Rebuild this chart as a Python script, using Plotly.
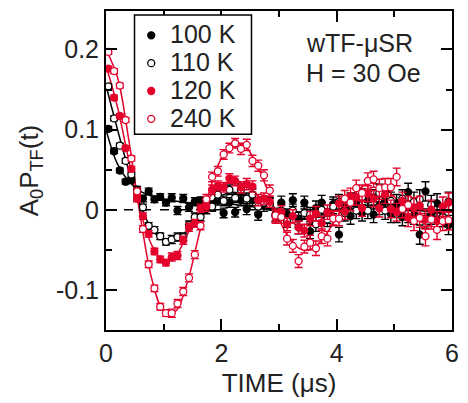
import plotly.graph_objects as go

# ---- data ----
t_data = [0.04, 0.14, 0.24, 0.34, 0.44, 0.54, 0.64, 0.74, 0.84, 0.94,
          1.04, 1.14, 1.24, 1.34, 1.44, 1.54, 1.64, 1.74, 1.84, 1.94,
          2.04, 2.14, 2.24, 2.34, 2.44, 2.54, 2.64, 2.74, 2.84, 2.94,
          3.04, 3.14, 3.24, 3.34, 3.44, 3.54, 3.64, 3.74, 3.84, 3.94,
          4.04, 4.14, 4.24, 4.34, 4.44, 4.54, 4.64, 4.74, 4.84, 4.94,
          5.04, 5.14, 5.24, 5.34, 5.44, 5.54, 5.64, 5.74, 5.84, 5.94]

y_100K = [0.101, 0.073, 0.049, 0.035, 0.037, 0.025, 0.014, 0.023, 0.013, 0.016,
          0.009, 0.015, -0.001, 0.014, 0.003, 0.010, 0.011, 0.001, 0.005, 0.012,
          -0.004, 0.009, -0.003, 0.012, 0.001, 0.012, -0.006, 0.005, 0.008, -0.006,
          0.009, -0.007, 0.012, -0.011, 0.009, -0.027, 0.002, 0.009, -0.008, 0.007,
          -0.031, 0.006, -0.008, 0.010, -0.004, 0.013, -0.006, 0.005, 0.011, -0.005,
          0.008, -0.009, 0.022, -0.006, -0.031, 0.023, -0.006, 0.008, -0.009, -0.019]

y_110K = [0.154, 0.114, 0.080, 0.061, 0.044, 0.015, 0.003, -0.020, -0.025, -0.033,
          -0.040, -0.037, -0.034, -0.034, -0.019, -0.009, -0.009, 0.008, 0.004, 0.019,
          0.011, 0.025, 0.015, 0.025, 0.014, 0.019, 0.004, 0.009, 0.007, -0.007,
          -0.001, -0.014, -0.001, -0.022, -0.004, -0.006, -0.018, 0.000, -0.012, 0.004,
          0.010, -0.004, 0.011, -0.001, 0.016, -0.001, 0.015, 0.021, -0.001, 0.011,
          -0.005, 0.014, -0.005, 0.010, 0.013, -0.011, 0.006, -0.012, -0.009, 0.010]

y_120K = [0.176, 0.140, 0.117, 0.077, 0.051, 0.014, -0.008, -0.030, -0.052, -0.062,
          -0.066, -0.059, -0.057, -0.038, -0.022, -0.017, 0.002, 0.004, 0.025, 0.030,
          0.028, 0.039, 0.036, 0.028, 0.032, 0.029, 0.012, 0.014, 0.010, -0.009,
          -0.003, -0.018, -0.008, -0.022, -0.026, -0.011, -0.005, -0.017, -0.003, -0.010,
          0.008, -0.002, 0.017, 0.016, 0.002, 0.020, 0.014, 0.002, 0.019, 0.001,
          -0.003, 0.011, -0.010, 0.003, 0.005, -0.012, 0.000, -0.014, 0.004, 0.009]

y_240K = [0.197, 0.173, 0.155, 0.112, 0.064, 0.023, -0.024, -0.068, -0.098, -0.121,
          -0.129, -0.129, -0.117, -0.102, -0.085, -0.056, -0.020, 0.013, 0.041, 0.048,
          0.069, 0.077, 0.083, 0.076, 0.081, 0.061, 0.055, 0.043, 0.024, -0.007,
          -0.009, -0.036, -0.045, -0.064, -0.046, -0.041, -0.048, -0.033, -0.036, -0.011,
          -0.011, 0.014, 0.009, 0.027, 0.021, 0.036, 0.038, 0.027, 0.028, 0.028,
          0.041, 0.001, 0.006, -0.014, -0.010, -0.033, -0.012, -0.025, -0.014, -0.013]

err = [0.003, 0.003, 0.003, 0.003, 0.003, 0.004, 0.004, 0.004, 0.004, 0.004,
       0.004, 0.005, 0.005, 0.005, 0.005, 0.005, 0.005, 0.006, 0.006, 0.006,
       0.006, 0.006, 0.006, 0.007, 0.007, 0.007, 0.007, 0.007, 0.007, 0.008,
       0.008, 0.008, 0.008, 0.008, 0.008, 0.009, 0.009, 0.009, 0.009, 0.009,
       0.009, 0.010, 0.010, 0.010, 0.010, 0.010, 0.010, 0.011, 0.011, 0.011,
       0.011, 0.011, 0.011, 0.012, 0.012, 0.012, 0.012, 0.012, 0.012, 0.012]

t_fit = [0.0, 0.2, 0.4, 0.6, 0.8, 1.0, 1.2, 1.4, 1.6, 1.8,
         2.0, 2.2, 2.4, 2.6, 2.8, 3.0, 3.2, 3.4, 3.6, 3.8,
         4.0, 4.2, 4.4, 4.6, 4.8, 5.0, 5.2, 5.4, 5.6, 5.8, 6.0]

fit_100K = [0.100, 0.057, 0.035, 0.023, 0.017, 0.013, 0.011, 0.009, 0.008, 0.008,
            0.008, 0.007, 0.005, 0.003, 0.001, -0.001, -0.002, -0.003, -0.003, -0.002,
            -0.001, 0.000, 0.001, 0.001, 0.001, 0.001, 0.000, 0.000, -0.001, -0.001, -0.001]
fit_110K = [0.155, 0.100, 0.048, 0.005, -0.025, -0.038, -0.038, -0.026, -0.008, 0.008,
            0.018, 0.022, 0.019, 0.011, 0.002, -0.005, -0.009, -0.011, -0.009, -0.005,
            -0.001, 0.003, 0.005, 0.006, 0.005, 0.003, 0.001, -0.001, -0.002, -0.002, -0.001]
fit_120K = [0.180, 0.128, 0.060, -0.003, -0.045, -0.064, -0.058, -0.032, -0.006, 0.016,
            0.030, 0.035, 0.031, 0.020, 0.006, -0.007, -0.016, -0.019, -0.016, -0.009,
            -0.001, 0.006, 0.010, 0.011, 0.008, 0.004, -0.001, -0.004, -0.005, -0.004, -0.002]
fit_240K = [0.200, 0.165, 0.085, -0.010, -0.088, -0.126, -0.127, -0.093, -0.035, 0.025,
            0.064, 0.081, 0.080, 0.058, 0.025, -0.012, -0.038, -0.050, -0.048, -0.032,
            -0.010, 0.012, 0.027, 0.033, 0.029, 0.016, 0.002, -0.012, -0.020, -0.021, -0.016]

labels = ["100 K", "110 K", "120 K", "240 K"]
x_ticks = [0, 2, 4, 6]
y_ticks = [-0.1, 0, 0.1, 0.2]
y_ticktext = ["-0.1", "0", "0.1", "0.2"]

BLACK = "#000000"
RED = "#e3002b"
TXT = "#222222"
FONT = "Liberation Sans, Arial, sans-serif"

series = [
    (labels[0], y_100K, fit_100K, BLACK, True),
    (labels[1], y_110K, fit_110K, BLACK, False),
    (labels[2], y_120K, fit_120K, RED, True),
    (labels[3], y_240K, fit_240K, RED, False),
]

fig = go.Figure()

# fit curves
for name, yd, yf, col, filled in series:
    fig.add_trace(go.Scatter(
        x=t_fit, y=yf, mode="lines", line=dict(color=col, width=1.5, shape="spline", smoothing=1.0),
        showlegend=False, hoverinfo="skip"))

# data with error bars
for name, yd, yf, col, filled in series:
    fig.add_trace(go.Scatter(
        x=t_data, y=yd, mode="markers", name=name, showlegend=False,
        marker=dict(symbol="circle", size=7,
                    color=col if filled else "white",
                    line=dict(color=col, width=1.3)),
        error_y=dict(type="data", array=err, visible=True, color=col, thickness=1.4, width=4),
    ))

# dashed zero line
fig.add_shape(type="line", xref="x", yref="y", x0=0, x1=6, y0=0, y1=0,
              line=dict(color="black", width=1.5, dash="dash"), layer="below")

# ---- legend box drawn by hand (paper coordinates) ----
fig.add_shape(type="rect", xref="paper", yref="paper", x0=0.0824, x1=0.4205, y0=0.6137, y1=0.9875,
              line=dict(color="black", width=1.5), fillcolor="white", layer="above")
leg_rows = [0.9237, 0.8364, 0.7492, 0.6620]
for (name, yd, yf, col, filled), yy in zip(series, leg_rows):
    fig.add_shape(type="circle", xref="paper", yref="paper",
                  xsizemode="pixel", ysizemode="pixel",
                  xanchor=0.1307, yanchor=yy, x0=-3.5, x1=3.5, y0=-3.5, y1=3.5,
                  line=dict(color=col, width=1.3), fillcolor=col if filled else "white",
                  layer="above")
    fig.add_annotation(x=0.1790, y=yy + 0.003, xref="paper", yref="paper", text=name,
                       showarrow=False, xanchor="left", yanchor="middle",
                       font=dict(size=25, color=TXT, family=FONT))

fig.add_annotation(x=0.572, y=0.900, xref="paper", yref="paper", text="wTF-μSR",
                   showarrow=False, xanchor="left", yanchor="middle",
                   font=dict(size=25, color=TXT, family=FONT))
fig.add_annotation(x=0.572, y=0.805, xref="paper", yref="paper", text="H = 30 Oe",
                   showarrow=False, xanchor="left", yanchor="middle",
                   font=dict(size=25, color=TXT, family=FONT))

axis_common = dict(
    showline=True, linecolor="black", linewidth=2, mirror="allticks",
    ticks="inside", ticklen=11, tickwidth=1.5, tickcolor="black",
    showgrid=False, zeroline=False,
    tickfont=dict(size=25, color=TXT, family=FONT),
)

fig.update_xaxes(range=[0, 6], tickvals=x_ticks,
                 minor=dict(ticks="inside", ticklen=6, tickwidth=1.5, tickcolor="black", dtick=1, tick0=0),
                 title=dict(text="TIME (μs)", font=dict(size=26, color=TXT, family=FONT), standoff=8),
                 **axis_common)
fig.update_yaxes(range=[-0.15, 0.248], tickvals=y_ticks, ticktext=y_ticktext,
                 minor=dict(ticks="inside", ticklen=6, tickwidth=1.5, tickcolor="black", dtick=0.05, tick0=0),
                 title=dict(text="A<sub>0</sub>P<sub>TF</sub>(t)", font=dict(size=26, color=TXT, family=FONT), standoff=10),
                 **axis_common)

fig.update_layout(
    width=468, height=403,
    margin=dict(l=106, r=10, t=9, b=73),
    paper_bgcolor="white", plot_bgcolor="white",
    font=dict(family=FONT, color=TXT),
    showlegend=False,
)

fig.write_html("out.html")
